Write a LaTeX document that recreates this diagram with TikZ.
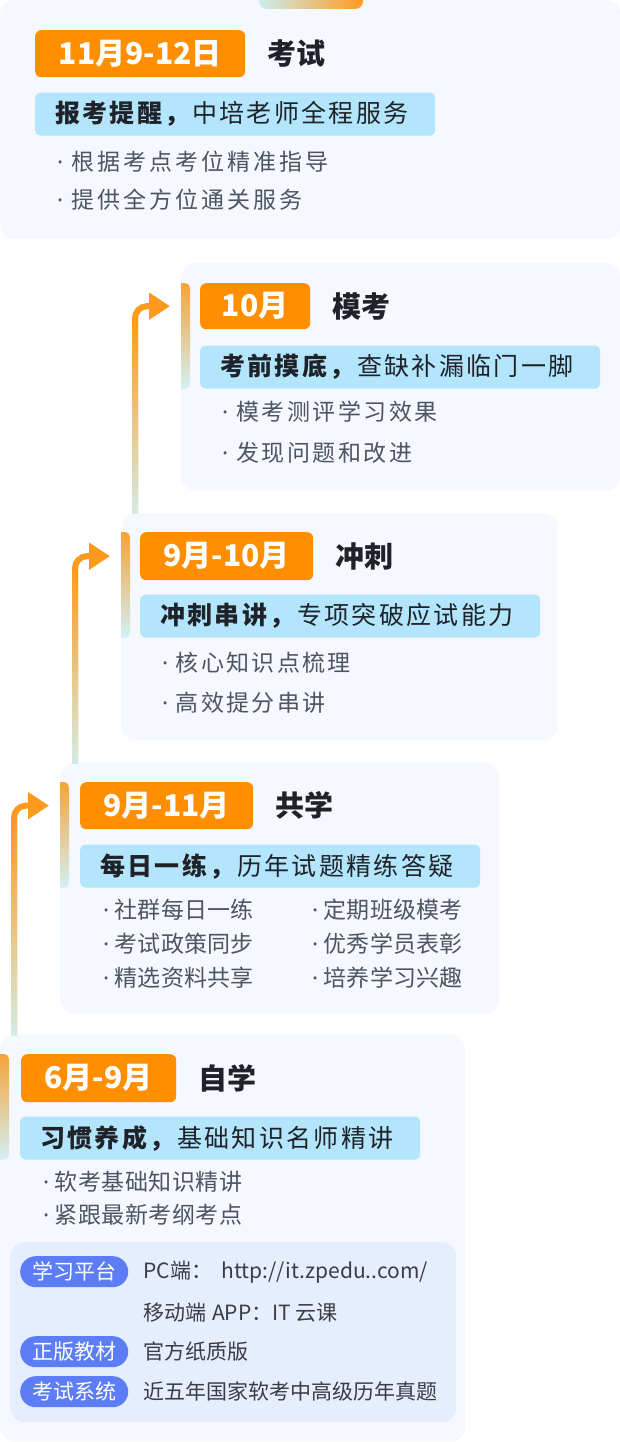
\documentclass[tikz,border=0pt]{standalone}
\usepackage{fontspec}
\setmainfont{Noto Sans CJK SC}
\newfontfamily\dotfont{Noto Sans}
\usetikzlibrary{positioning,arrows.meta,calc}

\definecolor{cardbg}{HTML}{F5F8FE}
\definecolor{orng}{HTML}{FF8F00}
\definecolor{sky}{HTML}{B3E5FC}
\definecolor{ink}{HTML}{1F2329}
\definecolor{itemgray}{HTML}{4E5561}
\definecolor{pillblue}{HTML}{5D7DF6}
\definecolor{panelbg}{HTML}{E6EEFD}
\definecolor{arroworange}{HTML}{FF9A1F}
\definecolor{mint}{HTML}{D3ECE3}
\definecolor{acctop}{HTML}{F5A33A}
\definecolor{accbot}{HTML}{D3F1F3}
\definecolor{tableft}{HTML}{CBEEEE}

\tikzstyle{card}=[rounded corners=14pt, fill=cardbg, inner sep=0pt, anchor=north west]
\tikzstyle{badge}=[rounded corners=6pt, fill=orng, text=white, inner sep=0pt, anchor=north west, font=\bfseries\fontsize{30}{36}\selectfont]
\tikzstyle{title}=[text=ink, inner sep=0pt, font=\bfseries\fontsize{29}{34}\selectfont]
\tikzstyle{bar}=[rounded corners=5pt, fill=sky, text=ink, align=left, text width=360pt, inner xsep=20pt, inner ysep=0pt, minimum height=43pt, font=\fontsize{25}{30}\selectfont\addfontfeatures{LetterSpace=9.5}]
\tikzstyle{panel}=[rounded corners=14pt, fill=panelbg, inner sep=0pt, anchor=north west]
\tikzstyle{pill}=[rounded corners=15.5pt, fill=pillblue, text=white, inner sep=0pt, anchor=north west, minimum width=108pt, minimum height=31pt, font=\fontsize{21}{25}\selectfont]
\tikzstyle{info}=[text=ink!88, inner sep=0pt, anchor=west, font=\fontsize{21}{25}\selectfont]
\tikzstyle{flowline}=[draw=arroworange, line width=6pt, rounded corners=12pt, -{Triangle[length=21pt,width=26pt]}]
\tikzset{item/.style={text=itemgray, inner sep=0pt, anchor=west, font=\fontsize{23}{28}\selectfont\addfontfeatures{LetterSpace=#1}}}
\newcommand{\bul}{{\dotfont ·}\ }

\begin{document}
\begin{tikzpicture}[x=1pt,y=-1pt]
\useasboundingbox (0,0) rectangle (620,1442);

% cards
\node[card, minimum width=620pt, minimum height=239pt] (c1) at (0,0) {};
\node[card, minimum width=439pt, minimum height=227pt] (c2) at (181,263) {};
\node[card, minimum width=437pt, minimum height=227pt] (c3) at (121,513) {};
\node[card, minimum width=439pt, minimum height=250pt] (c4) at (60,763) {};
\node[card, minimum width=465pt, minimum height=406pt] (c5) at (0,1035) {};
\shade[left color=tableft, right color=arroworange, rounded corners=8pt] (259,-12) rectangle (363,9);

% date badges and titles
\node[badge, minimum width=210pt, minimum height=47pt] (b1) at (35,30) {11月9-12日};
\node[badge, minimum width=110pt, minimum height=46pt] (b2) at (200,283) {10月};
\node[badge, minimum width=173pt, minimum height=48pt] (b3) at (140,532) {9月-10月};
\node[badge, minimum width=173pt, minimum height=47pt] (b4) at (80,782) {9月-11月};
\node[badge, minimum width=155pt, minimum height=48pt] (b5) at (21,1054) {6月-9月};
\node[title, right=22pt of b1] (t1) {考试};
\node[title, right=22pt of b2] (t2) {模考};
\node[title, right=22pt of b3] (t3) {冲刺};
\node[title, right=22pt of b4] (t4) {共学};
\node[title, right=22pt of b5] (t5) {自学};

% blue bars
\node[bar, below right=15pt and 0pt of b1.south west] (r1) {\textbf{报考提醒，}中培老师全程服务};
\node[bar, below right=16pt and 0pt of b2.south west] (r2) {\textbf{考前摸底，}查缺补漏临门一脚};
\node[bar, below right=14pt and 0pt of b3.south west] (r3) {\textbf{冲刺串讲，}专项突破应试能力};
\node[bar, below right=15pt and 0pt of b4.south west] (r4) {\textbf{每日一练，}历年试题精练答疑};
\node[bar, below right=14pt and -1pt of b5.south west] (r5) {\textbf{习惯养成，}基础知识名师精讲};

% left accents
\foreach \n in {2,...,5} {
  \begin{scope}
    \clip (c\n.west |- b\n.north) rectangle ($(c\n.west |- r\n.south)+(20,0)$);
    \shade[top color=acctop, bottom color=accbot, rounded corners=5pt]
      ($(c\n.west |- b\n.north)+(-10,0)$) rectangle ($(c\n.west |- r\n.south)+(9,0)$);
  \end{scope}
}

% bullet lists
\foreach \txt [count=\i] in {根据考点考位精准指导, 提供全方位通关服务}
  \node[item=13] (u1\i) at (57,{124+38*\i}) {\bul\txt};
\foreach \txt [count=\i] in {模考测评学习效果, 发现问题和改进}
  \node[item=11] (u2\i) at (222,{371+41*\i}) {\bul\txt};
\foreach \txt [count=\i] in {核心知识点梳理, 高效提分串讲}
  \node[item=10] (u3\i) at (162,{623+40*\i}) {\bul\txt};
\foreach \ltxt/\rtxt [count=\i] in {社群每日一练/定期班级模考, 考试政策同步/优秀学员表彰, 精选资料共享/培养学习兴趣} {
  \node[item=1] (u4\i) at (103,{876+34*\i}) {\bul\ltxt};
  \node[item=1] (v4\i) at (312,{876+34*\i}) {\bul\rtxt};
}
\foreach \txt [count=\i] in {软考基础知识精讲, 紧跟最新考纲考点}
  \node[item=2] (u5\i) at (43,{1149+33*\i}) {\bul\txt};

% resources panel
\node[panel, minimum width=446pt, minimum height=180pt] (pn) at (10,1242) {};
\node[pill] (p1) at (20,1256) {学习平台};
\node[pill] (p2) at (20,1336) {正版教材};
\node[pill] (p3) at (20,1376) {考试系统};
\node[info, right=15pt of p1] (n1) {PC端：\ \ http://it.zpedu..com/};
\node[info] (n2) at (143,1313) {移动端\hspace{6pt}APP：IT\ 云课};
\node[info, right=15pt of p2] (n3) {官方纸质版};
\node[info, right=15pt of p3] (n4) {近五年国家软考中高级历年真题};

% connectors between stages
\foreach \from/\to in {c3/2, c4/3, c5/4} {
  \coordinate (t\to) at ($(c\to.west |- b\to.west)+(-11,0)$);
  \coordinate (s\to) at ($(t\to)+(-35,0)$);
  \draw[flowline] (s\to |- \from.north) |- (t\to);
  \shade[top color=arroworange, middle color=arroworange!55!mint, bottom color=mint]
    ($(s\to |- t\to)+(-3,14)$) rectangle ($(s\to |- \from.north)+(3,0)$);
}
\end{tikzpicture}
\end{document}
